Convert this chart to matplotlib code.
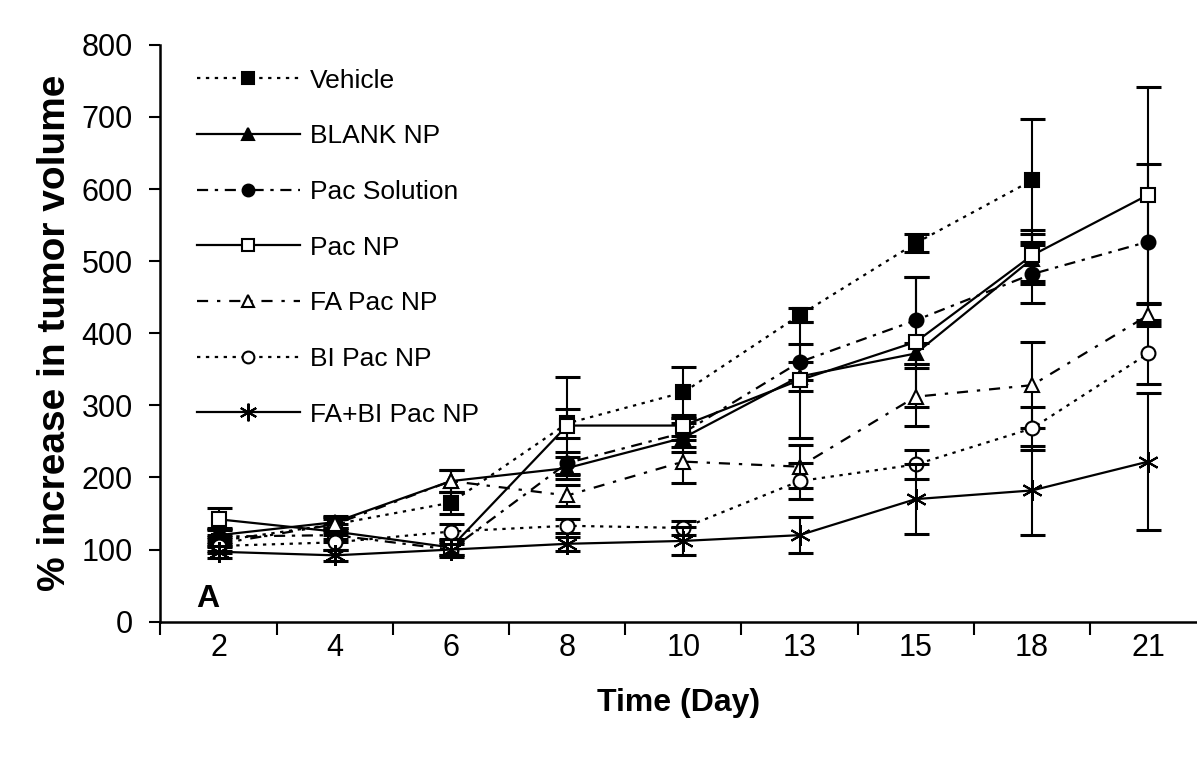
import numpy as np
import matplotlib
matplotlib.use("Agg")
import matplotlib.pyplot as plt

# Data (% increase in tumor volume)
days = ['2', '4', '6', '8', '10', '13', '15', '18', '21']

vehicle = [112, 135, 165, 275, 318, 425, 525, 612, np.nan]
vehicle_err = [8, 8, 15, 20, 35, 10, 12, 85, np.nan]

blank_np = [120, 138, 195, 213, 255, 340, 372, 503, np.nan]
blank_np_err = [10, 8, 15, 15, 20, 20, 15, 35, np.nan]

pac_sol = [118, 120, 100, 220, 262, 360, 418, 482, 527]
pac_sol_err = [10, 10, 10, 15, 20, 25, 60, 40, 108]

pac_np = [142, 125, 103, 272, 272, 335, 388, 508, 592]
pac_np_err = [15, 10, 10, 68, 15, 80, 90, 35, 150]

fa_pac_np = [108, 135, 195, 175, 222, 215, 312, 328, 425]
fa_pac_np_err = [10, 10, 15, 15, 30, 30, 40, 60, 15]

bi_pac_np = [105, 110, 125, 133, 130, 195, 218, 268, 372]
bi_pac_np_err = [10, 10, 10, 10, 10, 25, 20, 30, 42]

fa_bi_pac_np = [97, 92, 100, 108, 112, 120, 170, 182, 222]
fa_bi_pac_np_err = [8, 8, 8, 10, 20, 25, 48, 62, 95]

x = np.arange(len(days))
sans = ['Liberation Sans', 'DejaVu Sans']

fig = plt.figure(figsize=(11.97, 7.6), dpi=100)
ax = fig.add_axes([0.134, 0.182, 0.866, 0.759])

series = [
    ('Vehicle', vehicle, vehicle_err, (0, (1.5, 2.5)), 's', 'black'),
    ('BLANK NP', blank_np, blank_np_err, '-', '^', 'black'),
    ('Pac Solution', pac_sol, pac_sol_err, (0, (5, 3, 1.5, 3)), 'o', 'black'),
    ('Pac NP', pac_np, pac_np_err, '-', 's', 'white'),
    ('FA Pac NP', fa_pac_np, fa_pac_np_err, (0, (5, 4, 1.5, 4)), '^', 'white'),
    ('BI Pac NP', bi_pac_np, bi_pac_np_err, (0, (1.5, 2.5)), 'o', 'white'),
    ('FA+BI Pac NP', fa_bi_pac_np, fa_bi_pac_np_err, '-', (6, 2, 0), 'black'),
]

for label, vals, err, ls, mk, fc in series:
    # error bars first, without legend entry
    ax.errorbar(x, vals, yerr=err, fmt='none', ecolor='black', elinewidth=1.5,
                capsize=9, capthick=2.2)
    ax.plot(x, vals, color='black', linestyle=ls, linewidth=1.6,
            marker=mk, markersize=10 if mk != (6, 2, 0) else 15,
            markerfacecolor=fc, markeredgecolor='black', markeredgewidth=1.5,
            label=label)

ax.set_xlim(-0.5, 8.42)
ax.set_ylim(0, 800)
ax.set_yticks(range(0, 801, 100))
ax.set_xticks(x)
ax.set_xticklabels(days)
ax.set_xticks(np.arange(-0.5, 8.5, 1), minor=True)
ax.tick_params(axis='x', which='major', length=0, pad=8, labelsize=22)
ax.tick_params(axis='x', which='minor', length=9, width=1.5, direction='out')
ax.tick_params(axis='y', length=8, width=1.5, direction='out', labelsize=22, pad=12)
for s in ['top', 'right']:
    ax.spines[s].set_visible(False)
for s in ['left', 'bottom']:
    ax.spines[s].set_linewidth(1.8)

ax.set_xlabel('Time (Day)', fontsize=23, fontweight='bold', labelpad=18, family=sans)
ax.set_ylabel('% increase in tumor volume', fontsize=28, fontweight='bold',
              family=sans, labelpad=6)
for lbl in ax.get_xticklabels() + ax.get_yticklabels():
    lbl.set_family(sans)

ax.text(0.035, 0.025, 'A', transform=ax.transAxes, fontsize=23, fontweight='bold',
        family=sans)

leg = ax.legend(loc='upper left', bbox_to_anchor=(0.012, 1.0), frameon=False,
                handlelength=3.9, labelspacing=1.2, handletextpad=0.4,
                markerscale=0.85, prop={'family': sans, 'size': 19})

fig.savefig('out.png', dpi=100)
